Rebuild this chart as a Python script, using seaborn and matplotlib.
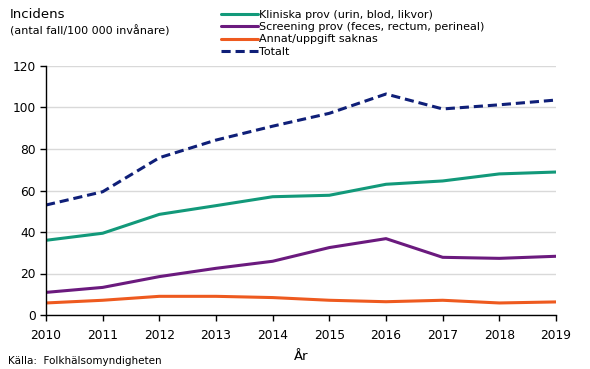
import matplotlib
matplotlib.use("Agg")

import matplotlib.pyplot as plt
import pandas as pd
import seaborn as sns

years = [2010, 2011, 2012, 2013, 2014, 2015, 2016, 2017, 2018, 2019]
kliniska = [36.0, 39.4, 48.5, 52.7, 57.0, 57.7, 63.0, 64.6, 68.0, 68.9]
screening = [10.9, 13.3, 18.5, 22.5, 25.9, 32.5, 36.8, 27.8, 27.3, 28.3]
annat = [5.8, 7.1, 9.0, 9.0, 8.4, 7.1, 6.4, 7.1, 5.8, 6.3]
totalt = [53.0, 59.4, 75.8, 84.3, 91.0, 97.2, 106.5, 99.3, 101.3, 103.6]

labels = [
    "Kliniska prov (urin, blod, likvor)",
    "Screening prov (feces, rectum, perineal)",
    "Annat/uppgift saknas",
    "Totalt",
]
colors = ["#12997A", "#6B1A7E", "#EE5A1F", "#0F1F78"]

df = pd.DataFrame({"year": years, labels[0]: kliniska, labels[1]: screening,
                   labels[2]: annat, labels[3]: totalt})
long = df.melt(id_vars="year", var_name="serie", value_name="value")

sns.set_theme(style="white")
plt.rcParams["font.family"] = ["DejaVu Sans"]
plt.rcParams["text.color"] = "black"
plt.rcParams["xtick.color"] = "black"
plt.rcParams["ytick.color"] = "black"

fig = plt.figure(figsize=(5.9, 3.69), dpi=100)
ax = fig.add_axes([46 / 590, 54 / 369, 510 / 590, 249 / 369])

sns.lineplot(data=long, x="year", y="value", hue="serie", style="serie",
             hue_order=labels, style_order=labels, palette=colors,
             dashes={labels[0]: "", labels[1]: "", labels[2]: "",
                     labels[3]: (3, 1.6)},
             linewidth=2.2, ax=ax, legend=False)

ax.set_xlim(2010, 2019)
ax.set_ylim(0, 120)
ax.set_xticks(years)
ax.set_yticks(range(0, 121, 20))
ax.tick_params(axis="both", labelsize=8.8, length=4, width=1, direction="out",
               colors="black", bottom=True, left=True)
ax.tick_params(axis="x", pad=6)
ax.yaxis.grid(True, color="#d9d9d9", linewidth=1)
ax.set_axisbelow(True)
for side in ["top", "right"]:
    ax.spines[side].set_visible(False)
for side in ["left", "bottom"]:
    ax.spines[side].set_color("black")
    ax.spines[side].set_linewidth(1)
ax.set_xlabel("")
ax.set_ylabel("")

# legend drawn by hand as line handles
handles = [plt.Line2D([], [], color=c, linewidth=2.2,
                      linestyle=(0, (3, 1.6)) if i == 3 else "-")
           for i, c in enumerate(colors)]
fig.legend(handles, labels, loc="upper left", bbox_to_anchor=(221 / 590, 1 - 10 / 369),
           frameon=False, fontsize=8, handlelength=3.3, handletextpad=0.1,
           labelspacing=0.2, borderaxespad=0, borderpad=0.0)

fig.text(10 / 590, 1 - 15 / 369, "Incidens", fontsize=9.5, va="center", ha="left")
fig.text(10 / 590, 1 - 31 / 369, "(antal fall/100 000 invånare)", fontsize=8,
         va="center", ha="left")
fig.text(301 / 590, 1 - 356 / 369, "År", fontsize=9.5, va="center", ha="center")
fig.text(8 / 590, 1 - 361 / 369, "Källa:  Folkhälsomyndigheten", fontsize=7.5,
         va="center", ha="left")

fig.savefig("out.png", dpi=100)
